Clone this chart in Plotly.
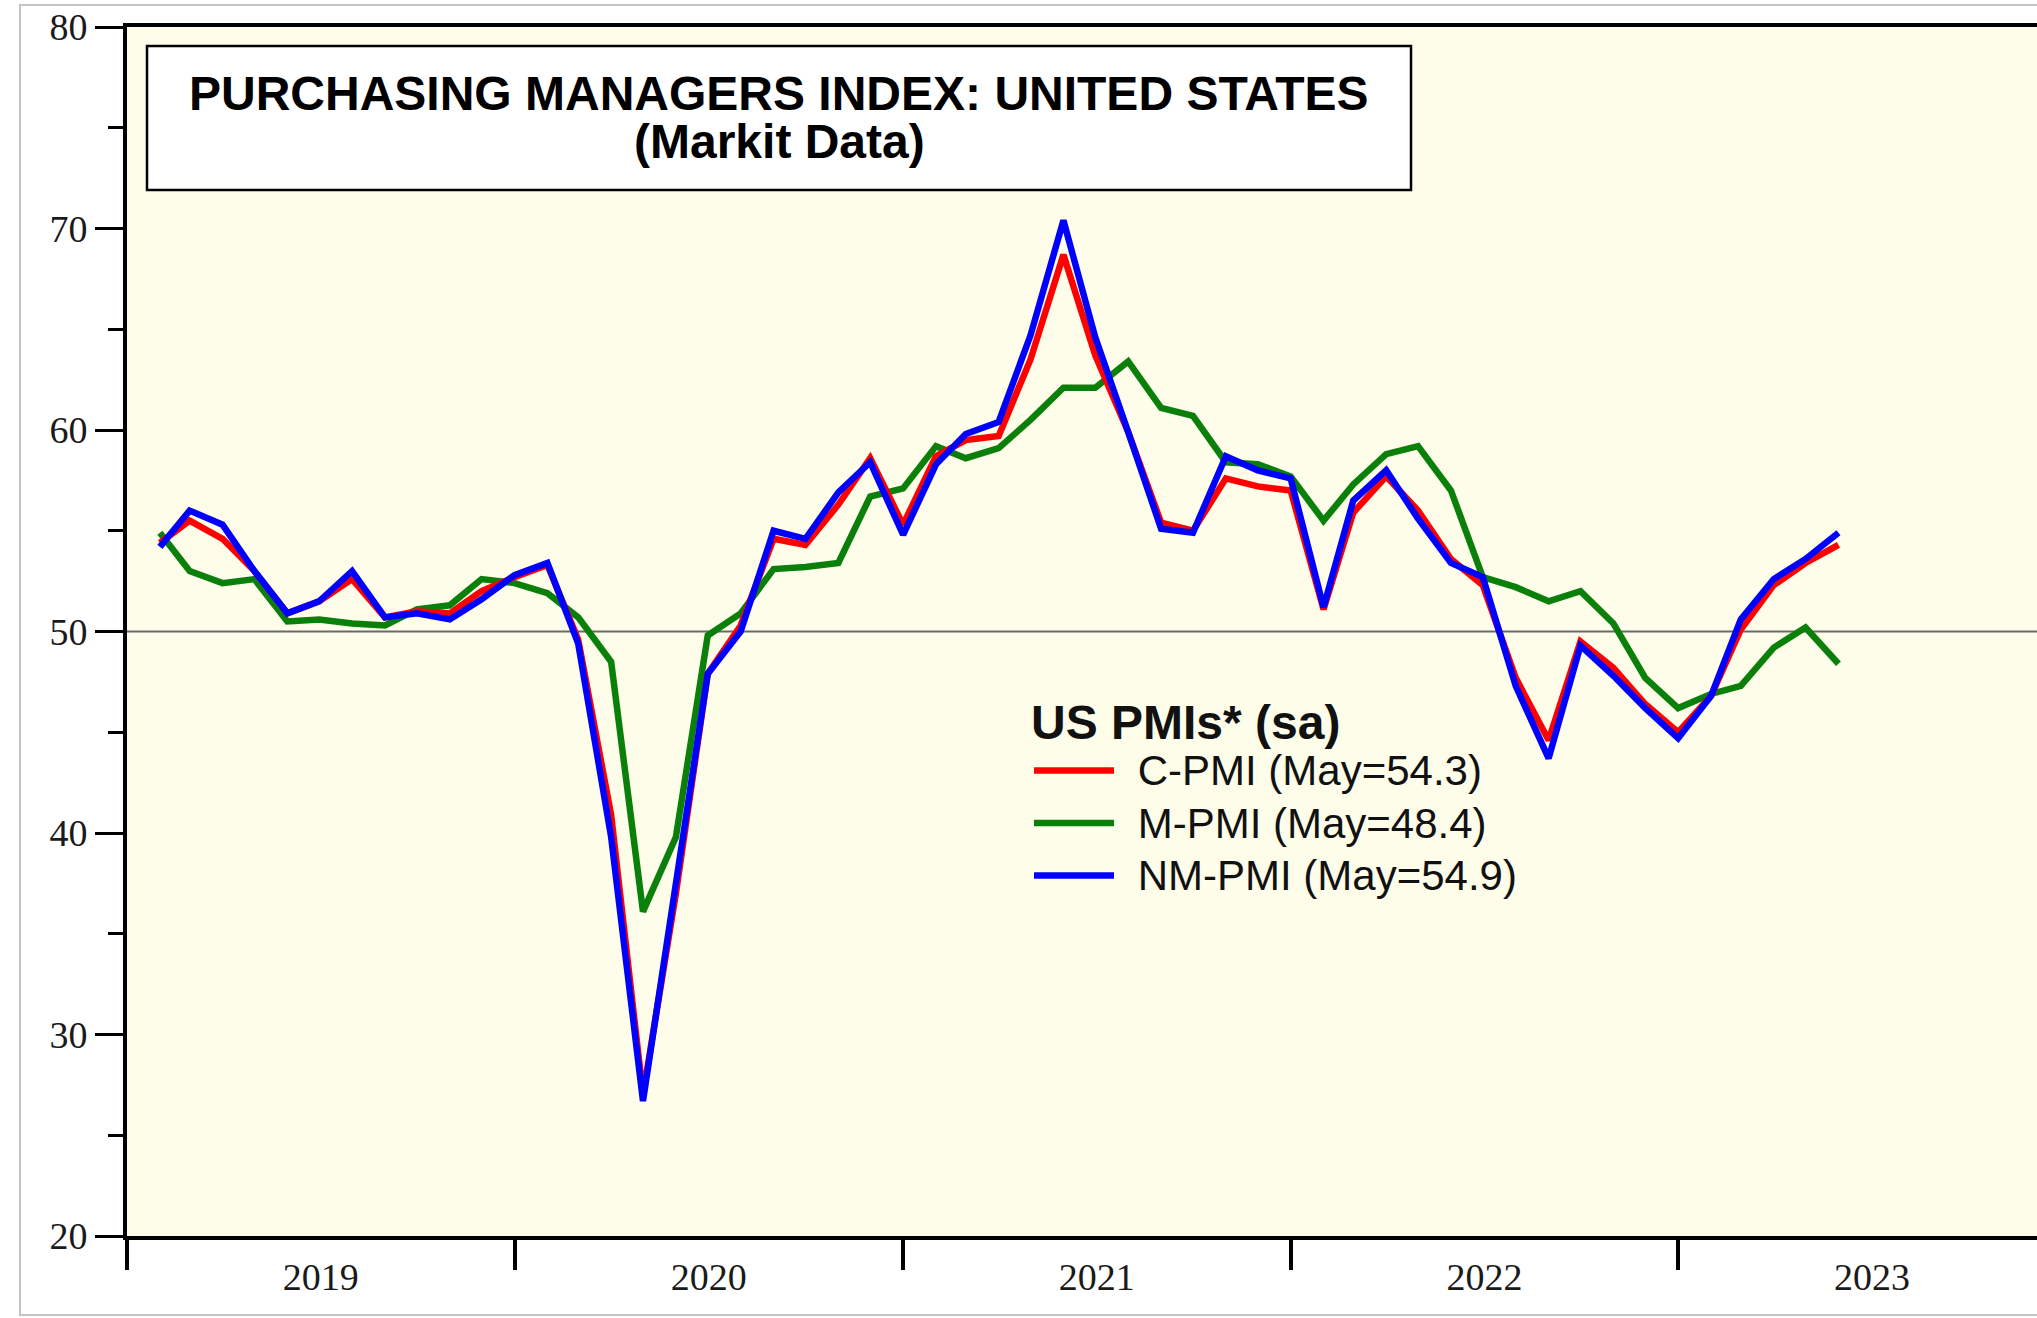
import pandas as pd
import plotly.graph_objects as go

# ---- data (monthly, Jan 2019 .. May 2023) ----
months = pd.period_range("2019-01", "2023-05", freq="M")

c_pmi = [54.4, 55.5, 54.6, 53.0, 50.9, 51.5, 52.6, 50.7, 51.0, 50.9, 52.0, 52.7,
         53.3, 49.6, 40.9, 27.0, 37.0, 47.9, 50.3, 54.6, 54.3, 56.3, 58.6, 55.3,
         58.7, 59.5, 59.7, 63.5, 68.7, 63.7, 59.9, 55.4, 55.0, 57.6, 57.2, 57.0,
         51.1, 55.9, 57.7, 56.0, 53.6, 52.3, 47.7, 44.6, 49.5, 48.2, 46.4, 45.0,
         46.8, 50.1, 52.3, 53.4, 54.3]

m_pmi = [54.9, 53.0, 52.4, 52.6, 50.5, 50.6, 50.4, 50.3, 51.1, 51.3, 52.6, 52.4,
         51.9, 50.7, 48.5, 36.1, 39.8, 49.8, 50.9, 53.1, 53.2, 53.4, 56.7, 57.1,
         59.2, 58.6, 59.1, 60.5, 62.1, 62.1, 63.4, 61.1, 60.7, 58.4, 58.3, 57.7,
         55.5, 57.3, 58.8, 59.2, 57.0, 52.7, 52.2, 51.5, 52.0, 50.4, 47.7, 46.2,
         46.9, 47.3, 49.2, 50.2, 48.4]

nm_pmi = [54.2, 56.0, 55.3, 53.0, 50.9, 51.5, 53.0, 50.7, 50.9, 50.6, 51.6, 52.8,
          53.4, 49.4, 39.8, 26.7, 37.5, 47.9, 50.0, 55.0, 54.6, 56.9, 58.4, 54.8,
          58.3, 59.8, 60.4, 64.7, 70.4, 64.6, 59.9, 55.1, 54.9, 58.7, 58.0, 57.6,
          51.2, 56.5, 58.0, 55.6, 53.4, 52.7, 47.3, 43.7, 49.3, 47.8, 46.2, 44.7,
          46.8, 50.6, 52.6, 53.6, 54.9]

series_names = ["C-PMI (May=54.3)", "M-PMI (May=48.4)", "NM-PMI (May=54.9)"]
series_colors = ["#FF0000", "#0A800A", "#0000FF"]

title_line1 = "PURCHASING MANAGERS INDEX: UNITED STATES"
title_line2 = "(Markit Data)"
legend_title = "US PMIs* (sa)"

# monthly observations plotted at month end
x_dates = months.to_timestamp(how="end")


def legend_label(name):
    # slightly larger visible text than the row-height font, with a small lead gap
    return '<span style="font-size:42px">\u00a0\u2006' + name + "</span>"


fig = go.Figure()
# drawing order: M (green) bottom, C (red), NM (blue) on top; legend order via legendrank
for vals, name, col, rank in [
    (m_pmi, series_names[1], series_colors[1], 2),
    (c_pmi, series_names[0], series_colors[0], 1),
    (nm_pmi, series_names[2], series_colors[2], 3),
]:
    fig.add_trace(go.Scatter(
        x=x_dates, y=vals, mode="lines", name=legend_label(name), legendrank=rank,
        line=dict(color=col, width=6.5), hoverinfo="x+y"))

W, H = 2037, 1318
L, R, T, B = 127, 0, 27, 82
pw, ph = W - L - R, H - T - B


def px(xpix):
    return (xpix - L) / pw


def py(ypix):
    return (H - B - ypix) / ph


serif = "Liberation Serif, Times New Roman, serif"
sans = "Liberation Sans, Arial, Helvetica, sans-serif"

fig.update_layout(
    width=W, height=H,
    margin=dict(l=L, r=R, t=T, b=B, pad=0),
    paper_bgcolor="white",
    plot_bgcolor="#FEFDE9",
    showlegend=True,
    legend=dict(
        x=px(1029), y=py(677), xanchor="left", yanchor="top",
        bgcolor="rgba(0,0,0,0)", borderwidth=0,
        font=dict(family=sans, size=38, color="#111111"),
        title=dict(text="<b>" + legend_title + "</b>",
                   font=dict(family=sans, size=48, color="#111111")),
        itemwidth=80, tracegroupgap=0,
    ),
    xaxis=dict(
        type="date", range=["2019-01-01", "2023-12-05"],
        showline=True, linecolor="black", linewidth=4, mirror=True,
        ticks="outside", ticklen=30, tickwidth=4, tickcolor="black",
        tick0="2019-01-01", dtick="M12", ticklabelmode="period", tickformat="%Y",
        ticklabelstandoff=-26,
        tickfont=dict(family=serif, size=38, color="#1a1a1a"),
        showgrid=False, zeroline=False,
    ),
    yaxis=dict(
        range=[20, 80], tick0=20, dtick=10,
        showline=True, linecolor="black", linewidth=4, mirror=False,
        ticks="outside", ticklen=28, tickwidth=2.5, tickcolor="black",
        minor=dict(dtick=5, ticks="outside", ticklen=15, tickwidth=2.5, tickcolor="black"),
        tickfont=dict(family=serif, size=38, color="#1a1a1a"),
        showgrid=False, zeroline=False,
    ),
)

# 50 threshold line
fig.add_hline(y=50, line=dict(color="#6a6a6a", width=2), layer="below")

# title box
fig.add_shape(type="rect", xref="paper", yref="paper",
              x0=px(147), x1=px(1411), y0=py(190), y1=py(46),
              fillcolor="white", line=dict(color="black", width=2.5), layer="above")
fig.add_annotation(text="<b>" + title_line1 + "</b>", xref="paper", yref="paper",
                   x=px(779), y=py(94), xanchor="center", yanchor="middle",
                   showarrow=False, font=dict(family=sans, size=48, color="black"))
fig.add_annotation(text="<b>" + title_line2 + "</b>", xref="paper", yref="paper",
                   x=px(779), y=py(141), xanchor="center", yanchor="middle",
                   showarrow=False, font=dict(family=sans, size=48, color="black"))

# outer light frame
fig.add_shape(type="rect", xref="paper", yref="paper",
              x0=px(20), x1=px(2060), y0=py(1315), y1=py(5),
              fillcolor="rgba(0,0,0,0)", line=dict(color="#C4C4C4", width=2), layer="above")

fig.write_html("out.html", config={"displayModeBar": False},
               post_script="document.body.style.margin='0';document.body.style.overflow='hidden';")
